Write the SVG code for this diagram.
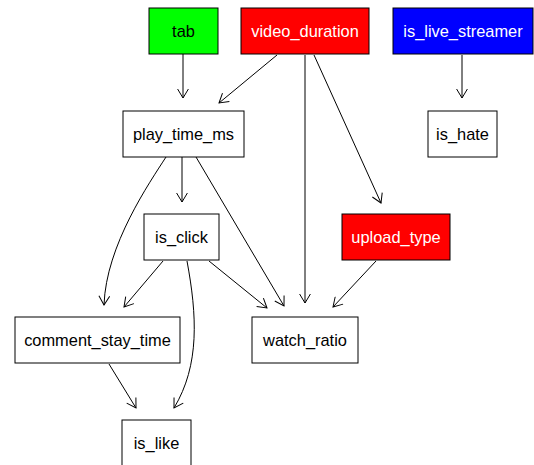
<svg xmlns="http://www.w3.org/2000/svg" width="534" height="465" viewBox="0 0 534 465">
<style>
  .box { stroke: #000; stroke-width: 1; }
  .lbl { font-family: "Liberation Sans", Arial, sans-serif; font-size: 16.4px; text-anchor: middle; }
  .edge { fill: none; stroke: #000; stroke-width: 1; marker-end: url(#arr); }
</style>
<defs>
  <marker id="arr" markerUnits="userSpaceOnUse" markerWidth="12" markerHeight="12" viewBox="0 0 12 12" refX="10" refY="6" orient="auto">
    <path d="M1,0.6 L10,6 L1,11.4" fill="none" stroke="#000" stroke-width="1"/>
  </marker>
</defs>
<rect width="534" height="465" fill="#fff"/>
<g id="edges">
  <path class="edge" d="M183,54 L183,98"/>
  <path class="edge" d="M277,55 L219,103"/>
  <path class="edge" d="M305,55 L305,303"/>
  <path class="edge" d="M314,55 L381,203"/>
  <path class="edge" d="M462,55 L462,98"/>
  <path class="edge" d="M182,157 L182,202"/>
  <path class="edge" d="M166,157 C150,182 106,245 104,305"/>
  <path class="edge" d="M196,157 L284,306"/>
  <path class="edge" d="M163,261 L124,307"/>
  <path class="edge" d="M187,261 C197,315 200,365 174,408"/>
  <path class="edge" d="M209,261 L267,308"/>
  <path class="edge" d="M376,261 L333,307"/>
  <path class="edge" d="M109,364 L136,408"/>
</g>
<g id="tab">
  <rect class="box" x="149" y="8" width="69" height="46" fill="#00FF00"/>
  <text class="lbl" x="183.5" y="37" fill="#000">tab</text>
</g>
<g id="video_duration">
  <rect class="box" x="241" y="8" width="128" height="46" fill="#FF0000"/>
  <text class="lbl" x="305" y="37" fill="#fff">video_duration</text>
</g>
<g id="is_live_streamer">
  <rect class="box" x="393" y="8" width="140" height="46" fill="#0000FF"/>
  <text class="lbl" x="463" y="37" fill="#fff">is_live_streamer</text>
</g>
<g id="play_time_ms">
  <rect class="box" x="123" y="111" width="121" height="46" fill="#fff"/>
  <text class="lbl" x="183.5" y="140" fill="#000">play_time_ms</text>
</g>
<g id="is_hate">
  <rect class="box" x="428" y="111" width="69" height="46" fill="#fff"/>
  <text class="lbl" x="462.5" y="140" fill="#000">is_hate</text>
</g>
<g id="is_click">
  <rect class="box" x="144" y="214" width="75" height="46" fill="#fff"/>
  <text class="lbl" x="181.5" y="243" fill="#000">is_click</text>
</g>
<g id="upload_type">
  <rect class="box" x="342" y="214" width="108" height="46" fill="#FF0000"/>
  <text class="lbl" x="396" y="243" fill="#fff">upload_type</text>
</g>
<g id="comment_stay_time">
  <rect class="box" x="15" y="317" width="165" height="46" fill="#fff"/>
  <text class="lbl" x="97.5" y="346" fill="#000">comment_stay_time</text>
</g>
<g id="watch_ratio">
  <rect class="box" x="252" y="317" width="106" height="46" fill="#fff"/>
  <text class="lbl" x="305" y="346" fill="#000">watch_ratio</text>
</g>
<g id="is_like">
  <rect class="box" x="122" y="420" width="69" height="46" fill="#fff"/>
  <text class="lbl" x="156.5" y="449" fill="#000">is_like</text>
</g>
</svg>
